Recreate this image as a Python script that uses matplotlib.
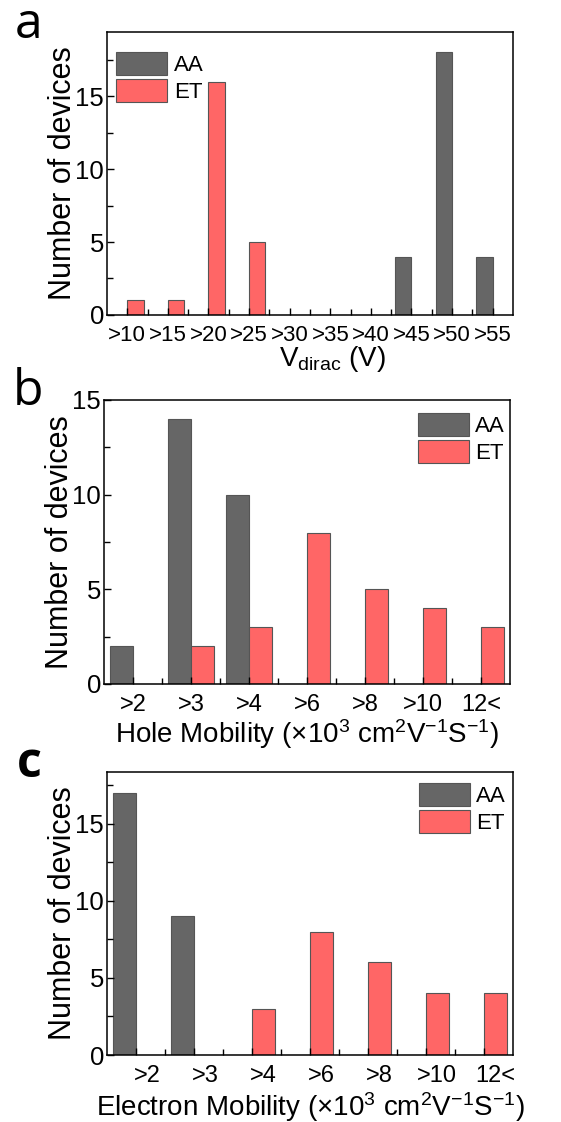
import matplotlib
matplotlib.use('Agg')
import matplotlib.pyplot as plt
import matplotlib.transforms as mtransforms
from matplotlib.ticker import MultipleLocator
import numpy as np

# data
a_labels = ['>10', '>15', '>20', '>25', '>30', '>35', '>40', '>45', '>50', '>55']
a_AA = [0, 0, 0, 0, 0, 0, 0, 4, 18, 4]
a_ET = [1, 1, 16, 5, 0, 0, 0, 0, 0, 0]

b_labels = ['>2', '>3', '>4', '>6', '>8', '>10', '12<']
b_AA = [2, 14, 10, 0, 0, 0, 0]
b_ET = [0, 2, 3, 8, 5, 4, 3]

c_labels = ['>2', '>3', '>4', '>6', '>8', '>10', '12<']
c_AA = [17, 9, 0, 0, 0, 0, 0]
c_ET = [0, 0, 3, 8, 6, 4, 4]

plt.rcParams['font.family'] = ['Liberation Sans', 'DejaVu Sans']
plt.rcParams['mathtext.fontset'] = 'custom'
plt.rcParams['mathtext.rm'] = 'Liberation Sans'
plt.rcParams['mathtext.it'] = 'Liberation Sans:italic'
plt.rcParams['mathtext.bf'] = 'Liberation Sans:bold'

AA_COLOR = '#666666'
ET_COLOR = '#ff6666'
EDGE = '#555555'
W = 0.4

fig = plt.figure(figsize=(5.61, 11.22), dpi=100)


def panel(rect, labels, aa, et, ymax, xlabel, legend_loc, legend_anchor, label_shift=0.0, tick_size=17):
    ax = fig.add_axes(rect)
    x = np.arange(len(labels))
    ax.bar(x - W / 2, aa, width=W, color=AA_COLOR, edgecolor=EDGE, linewidth=0.8, label='AA')
    ax.bar(x + W / 2, et, width=W, color=ET_COLOR, edgecolor=EDGE, linewidth=0.8, label='ET')
    ax.set_xlim(-0.5, len(labels) - 0.5)
    ax.set_ylim(0, ymax)
    ax.set_xticks(x)
    ax.set_xticklabels(labels)
    ax.set_xticks(x[:-1] + 0.5, minor=True)
    ax.yaxis.set_major_locator(MultipleLocator(5))
    ax.yaxis.set_minor_locator(MultipleLocator(2.5))
    ax.tick_params(axis='both', which='both', direction='in', width=1)
    ax.tick_params(axis='both', which='major', length=5)
    ax.tick_params(axis='x', which='major', labelsize=tick_size, pad=7)
    ax.tick_params(axis='y', which='major', labelsize=18.5, pad=2)
    ax.tick_params(axis='both', which='minor', length=4)
    for s in ax.spines.values():
        s.set_linewidth(1.1)
    if label_shift:
        off = mtransforms.ScaledTranslation(label_shift / 100.0, 0, fig.dpi_scale_trans)
        for t in ax.get_xticklabels():
            t.set_transform(t.get_transform() + off)
    ax.set_ylabel('Number of devices', fontsize=22)
    ax.set_xlabel(xlabel, fontsize=20)
    ax.legend(loc=legend_loc, bbox_to_anchor=legend_anchor, frameon=False, fontsize=16,
              handlelength=2.3, handleheight=1.2, labelspacing=0.14, handletextpad=0.3,
              borderpad=0, borderaxespad=0)
    return ax


ax1 = panel([0.1907, 0.7193, 0.7237, 0.2522], a_labels, a_AA, a_ET, 19.4,
            r'V$_{\mathrm{dirac}}$ (V)', 'upper left', (0.022, 0.929), tick_size=16)
ax1.yaxis.set_label_coords(-0.072, 0.5)
ax1.xaxis.set_label_coords(0.554, -0.102)

ax2 = panel([0.1854, 0.3904, 0.7237, 0.2531], b_labels, b_AA, b_ET, 15,
            r'Hole Mobility (×10$^{3}$ cm$^{2}$V$^{-1}$S$^{-1}$)', 'upper right', (0.988, 0.954))
ax2.yaxis.set_label_coords(-0.072, 0.5)
ax2.xaxis.set_label_coords(0.5, -0.116)

ax3 = panel([0.1907, 0.0597, 0.7237, 0.2522], c_labels, c_AA, c_ET, 18.35,
            r'Electron Mobility (×10$^{3}$ cm$^{2}$V$^{-1}$S$^{-1}$)', 'upper right', (0.983, 0.962),
            label_shift=11)
ax3.yaxis.set_label_coords(-0.072, 0.5)
ax3.xaxis.set_label_coords(0.5, -0.124)

fig.text(15 / 561, 1 - 38 / 1122, 'a', fontsize=36, family='Open Sans', va='baseline', ha='left')
fig.text(13 / 561, 1 - 405 / 1122, 'b', fontsize=36, family='Open Sans', va='baseline', ha='left')
fig.text(17 / 561, 1 - 777 / 1122, 'c', fontsize=35, family='Open Sans', fontweight='bold',
         va='baseline', ha='left')

fig.savefig('out.png', dpi=100)
